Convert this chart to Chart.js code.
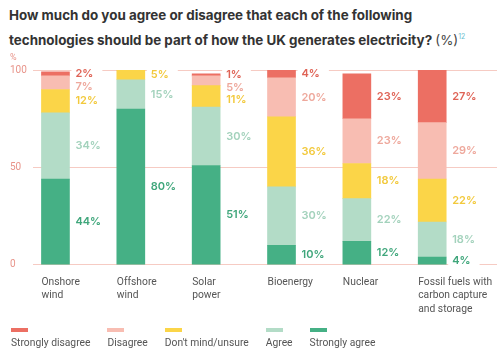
<!DOCTYPE html>
<html>
<head>
<meta charset="utf-8">
<script src="https://cdn.jsdelivr.net/npm/chart.js@4.4.1/dist/chart.umd.min.js"></script>
<style>
  body { margin: 0; background: #fff; width: 500px; height: 351px; overflow: hidden; position: relative; font-family: Roboto, sans-serif; }
  #title { position: absolute; left: 9px; top: 4px; font-family: Inter, sans-serif; font-weight: 700; font-size: 13.4px; line-height: 22px; color: #333; white-space: nowrap; }
  #title .unit { font-weight: 400; color: #444; }
  #title sup { color: #6cc0d0; font-size: 7px; font-weight: 400; vertical-align: 6px; }
  #wrap { position: absolute; left: 0; top: 48px; width: 500px; height: 284px; }
  #legend { position: absolute; top: 328px; left: 11px; display: flex; gap: 17px; }
  .item { font-size: 10.3px; color: #555; white-space: nowrap; }
  .item .sw { display: block; width: 17px; height: 4px; margin-bottom: 4px; }
</style>
</head>
<body>
<div id="title">How much do you agree or disagree that each of the following<br>technologies should be part of how the UK generates electricity? <span class="unit">(%)</span><sup>12</sup></div>
<div id="wrap"><canvas id="chart" width="500" height="284"></canvas></div>
<div id="legend"></div>
<script>
// --- Data ---
const categories = [['Onshore', 'wind'], ['Offshore', 'wind'], ['Solar', 'power'], ['Bioenergy'], ['Nuclear'], ['Fossil fuels with', 'carbon capture', 'and storage']];
const stronglyAgree = [44, 80, 51, 10, 12, 4];
const agree = [34, 15, 30, 30, 22, 18];
const unsure = [12, 5, 11, 36, 18, 22];
const disagree = [7, 0, 5, 20, 23, 29];
const stronglyDisagree = [2, 0, 1, 4, 23, 27];
const yTicks = [0, 50, 100];

// stacking order bottom -> top
const series = [
    { name: 'Strongly agree', values: stronglyAgree, color: '#45b085', text: '#3fa67b' },
    { name: 'Agree', values: agree, color: '#b3dcc7', text: '#a3d2bc' },
    { name: "Don't mind/unsure", values: unsure, color: '#fbd548', text: '#f2c93c' },
    { name: 'Disagree', values: disagree, color: '#f8bdb2', text: '#eea89c' },
    { name: 'Strongly disagree', values: stronglyDisagree, color: '#ec6f63', text: '#df6356' }
];

// legend (shown in reverse order)
const legend = document.getElementById('legend');
series.slice().reverse().forEach(s => {
    const div = document.createElement('div');
    div.className = 'item';
    div.innerHTML = `<span class="sw" style="background:${s.color}"></span>${s.name}`;
    legend.appendChild(div);
});

// value labels to the right of each segment
const segLabels = {
    id: 'segLabels',
    afterDatasetsDraw(chart) {
        const ctx = chart.ctx;
        ctx.save();
        ctx.font = '600 11px Inter, sans-serif';
        ctx.textBaseline = 'middle';
        ctx.textAlign = 'left';
        categories.forEach((c, i) => {
            const items = [];
            for (let d = chart.data.datasets.length - 1; d >= 0; d--) {
                const v = series[d].values[i];
                if (!v) continue;
                const bar = chart.getDatasetMeta(d).data[i];
                items.push({ text: v + '%', y: (bar.y + bar.base) / 2, x: bar.x + bar.width / 2 + 6, color: series[d].text });
            }
            let prev = -Infinity;
            items.forEach(it => { it.y = Math.max(it.y, prev + 12.5); prev = it.y; });
            items.forEach(it => {
                const w = ctx.measureText(it.text).width;
                ctx.fillStyle = '#fff';
                ctx.fillRect(it.x - 4, it.y - 6, w + 13, 12);
                ctx.fillStyle = it.color;
                ctx.fillText(it.text, it.x, it.y);
            });
        });
        ctx.restore();
    }
};

// "%" unit above the y axis
const unitLabel = {
    id: 'unitLabel',
    afterDraw(chart) {
        const { ctx, scales: { y } } = chart;
        ctx.save();
        ctx.font = '9px Roboto';
        ctx.fillStyle = '#e8948a';
        ctx.textBaseline = 'bottom';
        ctx.textAlign = 'left';
        ctx.fillText('%', y.left, y.top - 8);
        ctx.restore();
    }
};

new Chart(document.getElementById('chart'), {
    type: 'bar',
    data: {
        datasets: series.map(s => ({
            label: s.name,
            data: s.values.map((v, i) => ({ x: i, y: v })),
            backgroundColor: s.color,
            borderWidth: 0,
            barThickness: 28
        }))
    },
    options: {
        responsive: false,
        animation: false,
        layout: { padding: { top: 22, left: 10, right: 3, bottom: 5 } },
        plugins: { legend: { display: false }, tooltip: { enabled: false } },
        scales: {
            x: {
                type: 'linear',
                stacked: true,
                offset: false,
                min: -0.3,
                max: 5.86,
                grid: { display: false, drawTicks: false },
                border: { display: false },
                afterBuildTicks: axis => { axis.ticks = categories.map((c, i) => ({ value: i })); },
                afterFit: axis => { axis.paddingLeft = 0; axis.paddingRight = 0; },
                ticks: {
                    callback: v => categories[v],
                    align: 'start',
                    labelOffset: -14,
                    padding: 11,
                    maxRotation: 0,
                    autoSkip: false,
                    color: '#555',
                    font: { family: 'Roboto', size: 10.3, lineHeight: 1.3 }
                }
            },
            y: {
                stacked: true,
                min: 0,
                max: 100,
                afterBuildTicks: axis => { axis.ticks = yTicks.map(v => ({ value: v })); },
                grid: { color: '#f6cbc3', drawTicks: false },
                border: { display: false },
                ticks: { color: '#e8948a', padding: 3, crossAlign: 'far', font: { family: 'Roboto', size: 10 } }
            }
        }
    },
    plugins: [segLabels, unitLabel]
});
</script>
</body>
</html>
